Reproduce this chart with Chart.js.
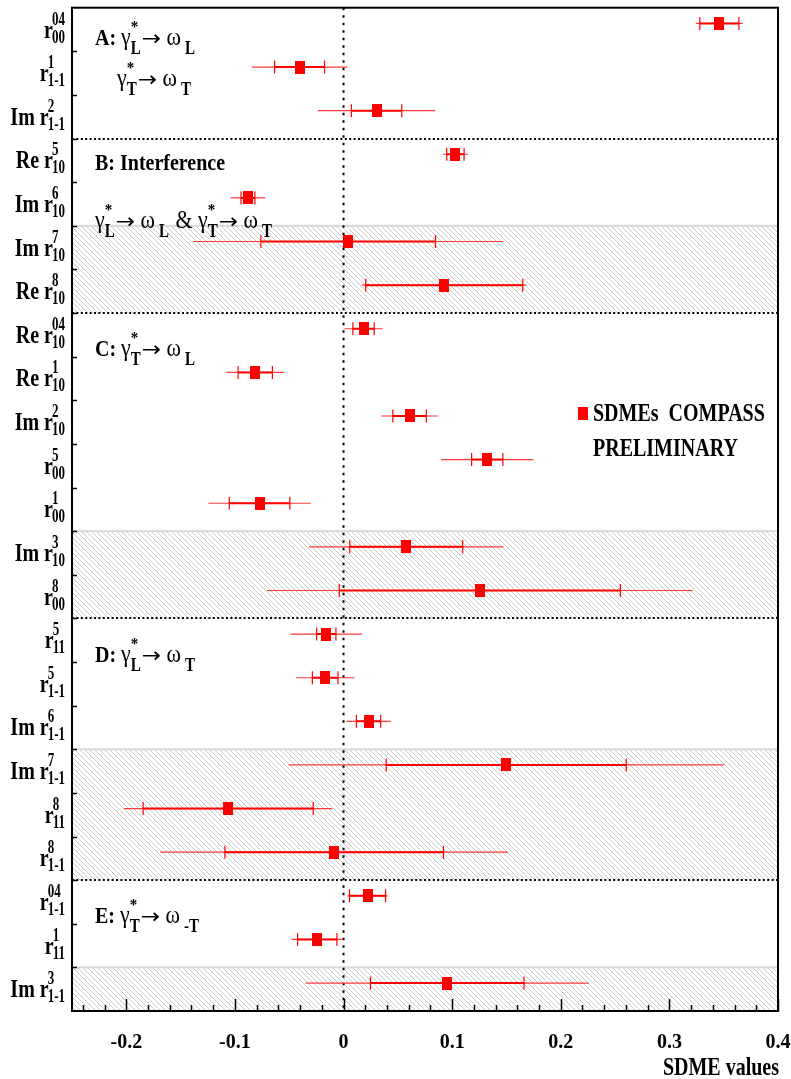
<!DOCTYPE html>
<html>
<head>
<meta charset="utf-8">
<script src="https://cdn.jsdelivr.net/npm/chart.js@4.4.1/dist/chart.umd.min.js"></script>
<style>
  html, body { margin: 0; padding: 0; background: #ffffff; }
  #contenedor { width: 791px; height: 1079px; position: relative; }
</style>
</head>
<body>
<div id="contenedor"><canvas id="graficoSDME"></canvas></div>
<script>
// Etiquetas de cada SDME (prefijo, superíndice, subíndice), de arriba a abajo
const sdmePrefijo = ['', '', 'Im ', 'Re ', 'Im ', 'Im ', 'Re ', 'Re ', 'Re ', 'Im ', '', '', 'Im ', '', '', '', 'Im ', 'Im ', '', '', '', '', 'Im '];
const sdmeSup = ['04', '1', '2', '5', '6', '7', '8', '04', '1', '2', '5', '1', '3', '8', '5', '5', '6', '7', '8', '8', '04', '1', '3'];
const sdmeSub = ['00', '1-1', '1-1', '10', '10', '10', '10', '10', '10', '10', '00', '00', '10', '00', '11', '1-1', '1-1', '1-1', '11', '1-1', '1-1', '11', '1-1'];

// Valores: valor central, error estadístico y error total
const sdmeValor = [0.346, -0.0405, 0.0304, 0.103, -0.088, 0.0043, 0.0927, 0.0184, -0.0813, 0.0608, 0.1323, -0.0773, 0.0577, 0.1255, -0.0159, -0.0169, 0.023, 0.1498, -0.1062, -0.0086, 0.0221, -0.0242, 0.0955];
const errorEstadistico = [0.018, 0.023, 0.0232, 0.008, 0.0064, 0.0804, 0.0723, 0.0098, 0.0158, 0.0154, 0.0144, 0.0279, 0.052, 0.1294, 0.0089, 0.0118, 0.0112, 0.1105, 0.0783, 0.1006, 0.0166, 0.0181, 0.0707];
const errorTotal = [0.0217, 0.044, 0.054, 0.0117, 0.016, 0.1427, 0.0758, 0.0177, 0.0265, 0.0262, 0.0425, 0.0471, 0.0895, 0.196, 0.033, 0.0269, 0.0204, 0.2004, 0.0959, 0.16, 0.0184, 0.0238, 0.1304];

// Eje X: etiquetas numeradas
const ticksX = [-0.2, -0.1, 0, 0.1, 0.2, 0.3, 0.4];

// Zonas sombreadas (filas inicio-fin) y separadores de grupos
const zonaInicio = [5, 12, 17, 22];
const zonaFin = [7, 14, 20, 23];
const separadores = [3, 7, 14, 20];

const N = sdmeValor.length;
const DESPLAZ = 0.36; // los puntos quedan en la parte alta de cada fila
const ROJO = '#ff0000';
const SERIF = '"Liberation Serif", "Times New Roman", serif';

// Marcador rectangular (10 x 13) como en el original
const marcador = document.createElement('canvas');
marcador.width = 10; marcador.height = 13;
const mctx = marcador.getContext('2d');
mctx.fillStyle = ROJO;
mctx.fillRect(0, 0, 10, 13);

// Patrón de rayado diagonal
function crearRayado(ctx) {
    const s = 5;
    const c = document.createElement('canvas');
    c.width = s; c.height = s;
    const p = c.getContext('2d');
    p.strokeStyle = '#bdbdbd';
    p.lineWidth = 0.8;
    p.beginPath();
    p.moveTo(-1, -1); p.lineTo(s + 1, s + 1);
    p.moveTo(-1, s - 1); p.lineTo(1, s + 1);
    p.moveTo(s - 1, -1); p.lineTo(s + 1, 1);
    p.stroke();
    return ctx.createPattern(c, 'repeat');
}

// Construcción de los datos para Chart.js
const puntos = [], lineaTotal = [], lineaEstad = [], marcasEstad = [];
for (let i = 0; i < N; i++) {
    const y = i + DESPLAZ;
    puntos.push({ x: sdmeValor[i], y });
    lineaTotal.push({ x: sdmeValor[i] - errorTotal[i], y }, { x: sdmeValor[i] + errorTotal[i], y }, { x: null, y: null });
    lineaEstad.push({ x: sdmeValor[i] - errorEstadistico[i], y }, { x: sdmeValor[i] + errorEstadistico[i], y }, { x: null, y: null });
    marcasEstad.push({ x: sdmeValor[i] - errorEstadistico[i], y }, { x: sdmeValor[i] + errorEstadistico[i], y });
}

// Texto estirado verticalmente (como en ROOT)
function texto(ctx, t, x, y, fuente, sy, align) {
    ctx.save();
    ctx.font = fuente;
    ctx.textAlign = align || 'left';
    ctx.textBaseline = 'alphabetic';
    ctx.translate(x, y);
    ctx.scale(1, sy);
    ctx.fillText(t, 0, 0);
    ctx.restore();
}
function ancho(ctx, t, fuente) {
    ctx.save(); ctx.font = fuente;
    const w = ctx.measureText(t).width;
    ctx.restore();
    return w;
}

// Etiquetas de grupo: lista de piezas {t, f} o {sup, sub} o {sub}
const FB = 'bold 20px ' + SERIF;
const FR = '22px ' + SERIF;
const FS = 'bold 15px ' + SERIF;
const FA = '23px "DejaVu Sans", sans-serif';
function etiquetaGrupo(ctx, x, y, piezas) {
    let cx = x;
    piezas.forEach(p => {
        if (p.t !== undefined) {
            texto(ctx, p.t, cx, y, p.f || FR, p.f === FA ? 0.9 : 1.15);
            cx += ancho(ctx, p.t, p.f || FR);
        } else {
            let w = 0;
            if (p.sup) { texto(ctx, p.sup, cx, y - 13, FS, 1.15); w = Math.max(w, ancho(ctx, p.sup, FS)); }
            if (p.sub) { texto(ctx, p.sub, cx + (p.gap || 0), y + 9, FS, 1.25); w = Math.max(w, ancho(ctx, p.sub, FS) + (p.gap || 0)); }
            cx += w + 1;
        }
    });
}
const flecha = { t: '→', f: FA };
const gruposTexto = [
    { y: 45, piezas: [{ t: 'A: ', f: FB }, { t: 'γ' }, { sup: '*', sub: 'L' }, flecha, { t: ' ω' }, { sub: 'L', gap: 4 }] },
    { y: 86, x: 117, piezas: [{ t: 'γ' }, { sup: '*', sub: 'T' }, flecha, { t: ' ω' }, { sub: 'T', gap: 4 }] },
    { y: 170, piezas: [{ t: 'B: Interference', f: FB }] },
    { y: 228, piezas: [{ t: 'γ' }, { sup: '*', sub: 'L' }, flecha, { t: ' ω' }, { sub: 'L', gap: 4 }, { t: ' & γ' }, { sup: '*', sub: 'T' }, flecha, { t: ' ω' }, { sub: 'T', gap: 4 }] },
    { y: 356, piezas: [{ t: 'C: ', f: FB }, { t: 'γ' }, { sup: '*', sub: 'T' }, flecha, { t: ' ω' }, { sub: 'L', gap: 4 }] },
    { y: 662, piezas: [{ t: 'D: ', f: FB }, { t: 'γ' }, { sup: '*', sub: 'L' }, flecha, { t: ' ω' }, { sub: 'T', gap: 4 }] },
    { y: 923, piezas: [{ t: 'E: ', f: FB }, { t: 'γ' }, { sup: '*', sub: 'T' }, flecha, { t: ' ω' }, { sub: '-T', gap: 4 }] }
];

const pluginFondo = {
    id: 'fondo',
    beforeDatasetsDraw(chart) {
        const { ctx, chartArea: a, scales: { x, y } } = chart;
        ctx.save();
        // zonas rayadas
        const rayado = crearRayado(ctx);
        for (let k = 0; k < zonaInicio.length; k++) {
            const y0 = y.getPixelForValue(zonaInicio[k]);
            const y1 = y.getPixelForValue(zonaFin[k]);
            ctx.fillStyle = rayado;
            ctx.fillRect(a.left, y0, a.right - a.left, y1 - y0);
            ctx.fillStyle = '#d9d9d9';
            ctx.fillRect(a.left, y0 - 1, a.right - a.left, 2);
        }
        // separadores punteados
        ctx.strokeStyle = '#000';
        ctx.lineWidth = 2;
        ctx.setLineDash([2, 2.4]);
        separadores.forEach(s => {
            const py = Math.round(y.getPixelForValue(s));
            ctx.beginPath(); ctx.moveTo(a.left, py); ctx.lineTo(a.right, py); ctx.stroke();
        });
        // línea vertical en cero
        ctx.setLineDash([2.5, 5]);
        const px0 = x.getPixelForValue(0);
        ctx.beginPath(); ctx.moveTo(px0, a.top); ctx.lineTo(px0, a.bottom); ctx.stroke();
        ctx.restore();
    },
    afterDatasetsDraw(chart) {
        const { ctx, chartArea: a, scales: { x, y } } = chart;
        ctx.save();
        // marco
        ctx.strokeStyle = '#000';
        ctx.lineWidth = 2;
        ctx.strokeRect(a.left, a.top, a.right - a.left, a.bottom - a.top);
        // marcas del eje X (hacia dentro)
        ctx.lineWidth = 1.5;
        for (let k = -12; k <= 20; k++) {
            const v = k * 0.02;
            const px = Math.round(x.getPixelForValue(v)) + 0.5;
            const largo = (k % 5 === 0) ? 12 : 6;
            ctx.beginPath(); ctx.moveTo(px, a.bottom); ctx.lineTo(px, a.bottom - largo); ctx.stroke();
        }
        // marcas del eje Y
        for (let i = 1; i < N; i++) {
            const py = Math.round(y.getPixelForValue(i)) + 0.5;
            ctx.beginPath(); ctx.moveTo(a.left, py); ctx.lineTo(a.left + 5, py); ctx.stroke();
        }
        ctx.fillStyle = '#000';
        // etiquetas del eje Y con índices
        const FM = 'bold 20px ' + SERIF;
        const FI = 'bold 13px ' + SERIF;
        for (let i = 0; i < N; i++) {
            const centro = y.getPixelForValue(i + 0.5);
            const principal = sdmePrefijo[i] + 'r';
            const wIdx = Math.max(ancho(ctx, sdmeSup[i], FI), ancho(ctx, sdmeSub[i], FI));
            const xIdx = 65 - wIdx;
            texto(ctx, principal, xIdx + 1, centro + 8, FM, 1.3, 'right');
            texto(ctx, sdmeSup[i], xIdx, centro - 5, FI, 1.4);
            texto(ctx, sdmeSub[i], xIdx, centro + 13, FI, 1.4);
        }
        // etiquetas de grupo
        gruposTexto.forEach(g => etiquetaGrupo(ctx, g.x || 95, g.y, g.piezas));
        // leyenda
        ctx.fillStyle = ROJO;
        ctx.fillRect(578, 407, 10, 13);
        ctx.fillStyle = '#000';
        texto(ctx, 'SDMEs  COMPASS', 593, 421, 'bold 20px ' + SERIF, 1.3);
        texto(ctx, 'PRELIMINARY', 593, 456, 'bold 20px ' + SERIF, 1.3);
        // título del eje X
        texto(ctx, 'SDME values', 779, 1075, 'bold 20px ' + SERIF, 1.25, 'right');
        ctx.restore();
    }
};

new Chart(document.getElementById('graficoSDME'), {
    type: 'scatter',
    data: {
        datasets: [
            {
                label: 'SDMEs COMPASS PRELIMINARY',
                data: puntos,
                pointStyle: marcador,
                pointRadius: 6,
                backgroundColor: ROJO,
                borderColor: ROJO
            },
            {
                label: 'stat',
                data: marcasEstad,
                pointStyle: 'line',
                rotation: 90,
                pointRadius: 6.5,
                borderWidth: 1.2,
                borderColor: ROJO
            },
            {
                label: 'stat line',
                data: lineaEstad,
                showLine: true,
                spanGaps: false,
                pointRadius: 0,
                borderWidth: 2,
                borderColor: ROJO
            },
            {
                label: 'total line',
                data: lineaTotal,
                showLine: true,
                spanGaps: false,
                pointRadius: 0,
                borderWidth: 1.2,
                borderColor: '#ff3a3a'
            }
        ]
    },
    options: {
        responsive: true,
        maintainAspectRatio: false,
        animation: false,
        devicePixelRatio: 1,
        layout: { padding: { left: 72, right: 13, top: 7, bottom: 0 } },
        plugins: { legend: { display: false }, tooltip: { enabled: false } },
        scales: {
            x: {
                type: 'linear',
                min: -0.25,
                max: 0.4,
                afterFit(scale) {
                    scale.height = 68;
                    scale.paddingLeft = 0;
                    scale.paddingRight = 0;
                },
                afterBuildTicks(scale) { scale.ticks = ticksX.map(v => ({ value: v })); },
                grid: { display: false, drawTicks: false },
                border: { display: false },
                ticks: {
                    padding: 20,
                    color: '#000',
                    font: { family: SERIF, size: 20, weight: 'bold' },
                    maxRotation: 0,
                    autoSkip: false,
                    callback: v => String(Math.round(v * 10) / 10)
                }
            },
            y: {
                type: 'linear',
                min: 0,
                max: N,
                reverse: true,
                display: false
            }
        }
    },
    plugins: [pluginFondo]
});
</script>
</body>
</html>
